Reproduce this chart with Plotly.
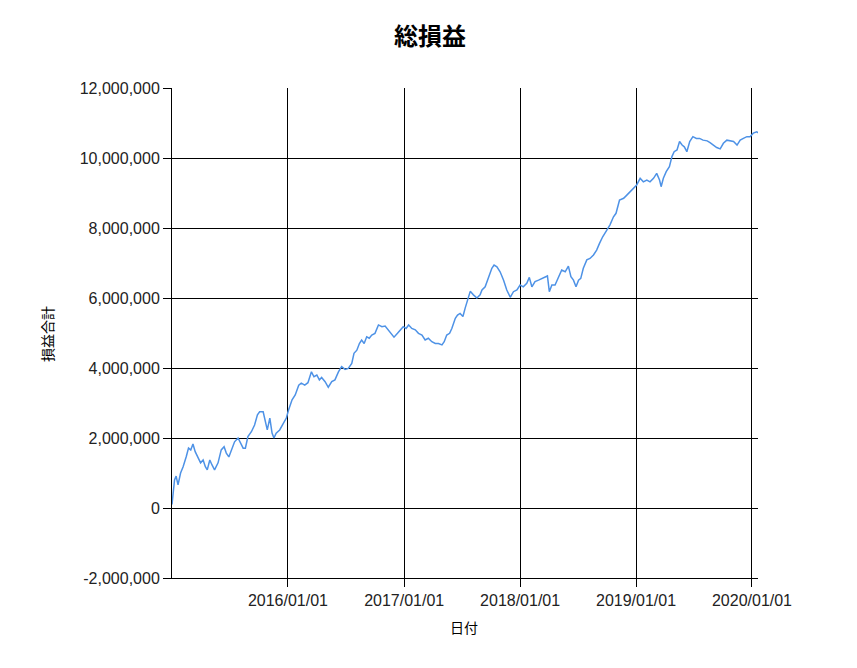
import plotly.graph_objects as go

dates = [
    "2015-01-01", "2015-01-09", "2015-01-14", "2015-01-20", "2015-01-28", "2015-02-05", "2015-02-15",
    "2015-02-22", "2015-03-01", "2015-03-08", "2015-03-15", "2015-03-24", "2015-04-01", "2015-04-09",
    "2015-04-16", "2015-04-22", "2015-04-30", "2015-05-07", "2015-05-15", "2015-05-26", "2015-06-05",
    "2015-06-14", "2015-06-21", "2015-06-29", "2015-07-07", "2015-07-17", "2015-07-28", "2015-08-05",
    "2015-08-13", "2015-08-20", "2015-08-28", "2015-09-08", "2015-09-18", "2015-09-27", "2015-10-04",
    "2015-10-15", "2015-10-22", "2015-10-28", "2015-11-05", "2015-11-12", "2015-11-18", "2015-11-25",
    "2015-12-06", "2015-12-17", "2015-12-27",
    "2016-01-03", "2016-01-14", "2016-01-24", "2016-02-04", "2016-02-12", "2016-02-23", "2016-03-04",
    "2016-03-15", "2016-03-23", "2016-04-01", "2016-04-09", "2016-04-16", "2016-04-27", "2016-05-07",
    "2016-05-18", "2016-05-28", "2016-06-08", "2016-06-18", "2016-06-29", "2016-07-09", "2016-07-20",
    "2016-07-27", "2016-08-05", "2016-08-13", "2016-08-20", "2016-08-28", "2016-09-05", "2016-09-13",
    "2016-09-21", "2016-10-01", "2016-10-12", "2016-10-23", "2016-11-02", "2016-11-12", "2016-11-23",
    "2016-11-30", "2016-12-11", "2016-12-21", "2016-12-29",
    "2017-01-07", "2017-01-15", "2017-01-25", "2017-02-05", "2017-02-15", "2017-02-26", "2017-03-08",
    "2017-03-18", "2017-03-29", "2017-04-09", "2017-04-19", "2017-04-30", "2017-05-07", "2017-05-15",
    "2017-05-24", "2017-05-31", "2017-06-11", "2017-06-18", "2017-06-26", "2017-07-05", "2017-07-12",
    "2017-07-19", "2017-07-28", "2017-08-07", "2017-08-18", "2017-08-28", "2017-09-03", "2017-09-13",
    "2017-09-24", "2017-10-04", "2017-10-11", "2017-10-20", "2017-10-30", "2017-11-10", "2017-11-20",
    "2017-12-01", "2017-12-11", "2017-12-22",
    "2018-01-01", "2018-01-11", "2018-01-22", "2018-01-30", "2018-02-07", "2018-02-17", "2018-02-28",
    "2018-03-10", "2018-03-21", "2018-03-28", "2018-04-03", "2018-04-11", "2018-04-21", "2018-05-02",
    "2018-05-12", "2018-05-23", "2018-06-02", "2018-06-10", "2018-06-18", "2018-06-26", "2018-07-04",
    "2018-07-11", "2018-07-19", "2018-07-30", "2018-08-09", "2018-08-20", "2018-08-30", "2018-09-08",
    "2018-09-18", "2018-10-01", "2018-10-11", "2018-10-22", "2018-10-30", "2018-11-10", "2018-11-23",
    "2018-12-03", "2018-12-13", "2018-12-24",
    "2019-01-03", "2019-01-14", "2019-01-24", "2019-02-04", "2019-02-14", "2019-02-25", "2019-03-07",
    "2019-03-16", "2019-03-21", "2019-03-28", "2019-04-06", "2019-04-16", "2019-04-24", "2019-05-01",
    "2019-05-10", "2019-05-18", "2019-05-26", "2019-06-02", "2019-06-10", "2019-06-19", "2019-06-29",
    "2019-07-10", "2019-07-20", "2019-07-31", "2019-08-13", "2019-08-22", "2019-09-02", "2019-09-12",
    "2019-09-23", "2019-10-03", "2019-10-14", "2019-10-24", "2019-11-04", "2019-11-15", "2019-11-25",
    "2019-12-05", "2019-12-16", "2019-12-26",
    "2020-01-05", "2020-01-16", "2020-01-20",
]

# 損益合計 (millions of yen)
profit_m = [
    0.10, 0.80, 0.91, 0.66, 1.00, 1.18, 1.47,
    1.71, 1.66, 1.83, 1.61, 1.43, 1.29, 1.37,
    1.18, 1.09, 1.37, 1.23, 1.09, 1.29, 1.66,
    1.75, 1.57, 1.46, 1.66, 1.89, 2.00, 1.86,
    1.71, 1.71, 2.04, 2.18, 2.37, 2.66, 2.75,
    2.75, 2.51, 2.23, 2.57, 2.14, 2.00, 2.14,
    2.23, 2.43, 2.57,
    2.80, 3.09, 3.23, 3.51, 3.57, 3.51, 3.58,
    3.89, 3.75, 3.80, 3.66, 3.73, 3.61, 3.45,
    3.61, 3.66, 3.89, 4.04, 3.96, 3.99, 4.13,
    4.42, 4.51, 4.70, 4.80, 4.70, 4.89, 4.85,
    4.94, 4.99, 5.23, 5.18, 5.20, 5.09, 4.99,
    4.88, 4.99, 5.09, 5.18,
    5.13, 5.23, 5.13, 5.09, 4.99, 4.94, 4.80,
    4.85, 4.75, 4.70, 4.70, 4.66, 4.75, 4.94,
    4.99, 5.13, 5.42, 5.51, 5.56, 5.47, 5.71,
    5.95, 6.19, 6.09, 6.00, 6.09, 6.23, 6.32,
    6.61, 6.85, 6.94, 6.89, 6.75, 6.51, 6.23,
    6.02, 6.18, 6.23,
    6.37, 6.32, 6.42, 6.59, 6.32, 6.47, 6.51,
    6.56, 6.61, 6.63, 6.18, 6.37, 6.37, 6.61,
    6.80, 6.75, 6.91, 6.61, 6.51, 6.32, 6.51,
    6.56, 6.85, 7.09, 7.13, 7.23, 7.37, 7.56,
    7.75, 7.94, 8.09, 8.32, 8.42, 8.80, 8.85,
    8.94, 9.04, 9.13,
    9.23, 9.42, 9.32, 9.37, 9.32, 9.42, 9.56,
    9.37, 9.18, 9.42, 9.61, 9.75, 10.04, 10.18,
    10.23, 10.47, 10.37, 10.32, 10.18, 10.47, 10.61,
    10.56, 10.56, 10.51, 10.49, 10.44, 10.37, 10.30,
    10.26, 10.42, 10.51, 10.49, 10.47, 10.37, 10.51,
    10.56, 10.61, 10.61,
    10.71, 10.75, 10.72,
]
profit = [v * 1_000_000 for v in profit_m]

y_tickvals = [-2000000, 0, 2000000, 4000000, 6000000, 8000000, 10000000, 12000000]
y_ticktext = ["-2,000,000", "0", "2,000,000", "4,000,000", "6,000,000", "8,000,000", "10,000,000", "12,000,000"]
x_tickvals = ["2016-01-01", "2017-01-01", "2018-01-01", "2019-01-01", "2020-01-01"]
x_ticktext = ["2016/01/01", "2017/01/01", "2018/01/01", "2019/01/01", "2020/01/01"]

# The page body adds an 8px offset, so the figure is sized/margined to compensate.
W, H = 849, 660
ML, MR, MT, MB = 164, 99, 80, 90
PW, PH = W - ML - MR, H - MT - MB

fig = go.Figure()
fig.add_trace(go.Scatter(
    x=dates, y=profit, mode="lines",
    line=dict(color="rgb(78,146,230)", width=1.5),
    showlegend=False, hoverinfo="x+y",
))

tickfont = dict(family="Liberation Sans, Arial, sans-serif", size=16, color="#222222")
cjk = "Noto Sans CJK JP, sans-serif"

fig.update_layout(
    width=W, height=H,
    margin=dict(l=ML, r=MR, t=MT, b=MB),
    paper_bgcolor="white", plot_bgcolor="white",
    title=dict(text="<b>総損益</b>", x=(430 - 8) / W, xanchor="center", y=1 - (37 - 8) / H, yanchor="middle",
               font=dict(family=cjk, size=24, color="black")),
    xaxis=dict(
        type="date", range=["2015-01-01", "2020-01-20"],
        tickmode="array", tickvals=x_tickvals, ticktext=x_ticktext,
        showgrid=True, gridcolor="black", gridwidth=1,
        showline=True, linecolor="black", linewidth=1,
        ticks="outside", ticklen=8, tickcolor="black", tickwidth=1,
        tickfont=tickfont, zeroline=False,
    ),
    yaxis=dict(
        range=[-2000000, 12000000],
        tickmode="array", tickvals=y_tickvals, ticktext=y_ticktext,
        showgrid=True, gridcolor="black", gridwidth=1,
        showline=True, linecolor="black", linewidth=1,
        ticks="outside", ticklen=8, tickcolor="black", tickwidth=1,
        tickfont=tickfont, zeroline=False,
    ),
)

# axis titles placed by page-pixel position (converted to paper coordinates)
fig.add_annotation(text="日付", x=(464 - 8 - ML) / PW, y=(H - MB - (627 - 8)) / PH,
                   xref="paper", yref="paper", xanchor="center", yanchor="middle",
                   showarrow=False, font=dict(family=cjk, size=14, color="black"))
fig.add_annotation(text="損益合計", x=(47 - 8 - ML) / PW, y=(H - MB - (334 - 8)) / PH,
                   xref="paper", yref="paper", xanchor="center", yanchor="middle",
                   textangle=-90, showarrow=False, font=dict(family=cjk, size=14, color="black"))

fig.write_html("out.html")
